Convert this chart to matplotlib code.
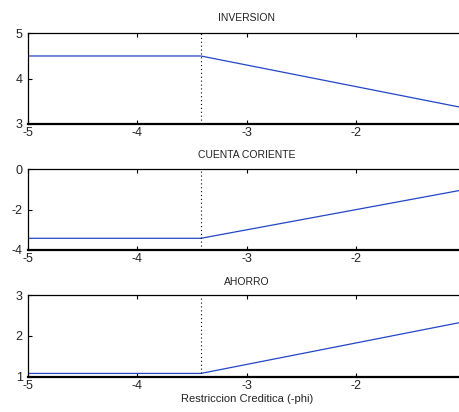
import numpy as np
import matplotlib
matplotlib.use("Agg")
import matplotlib.pyplot as plt

plt.rcParams['font.family'] = ['Liberation Sans', 'DejaVu Sans']
plt.rcParams['axes.unicode_minus'] = False

# datos
phi = [-5.0, -3.42, -1.0]
inversion = [4.5, 4.5, 3.35]
cuenta_corriente = [-3.42, -3.42, -1.0]
ahorro = [1.08, 1.08, 2.35]
phi_corte = -3.42

titulos = ['INVERSION', 'CUENTA CORIENTE', 'AHORRO']
series = [inversion, cuenta_corriente, ahorro]
ylims = [(3, 5), (-4, 0), (1, 3)]
yticks = [[3, 4, 5], [-4, -2, 0], [1, 2, 3]]
xticks = [-5, -4, -3, -2, -1]

W, H = 459, 412
fig = plt.figure(figsize=(W / 100, H / 100), dpi=100)

# posiciones en pixeles (arriba, abajo) de cada eje
cajas = [(33.3, 124.0), (169.3, 250.0), (295.0, 376.7)]
pads = [9, 8, 7]
x0, x1 = 28.3, 465.0

for k in range(3):
    top, bot = cajas[k]
    ax = fig.add_axes([x0 / W, 1 - bot / H, (x1 - x0) / W, (bot - top) / H])
    ax.plot(phi, series[k], color='#2346c4', linewidth=0.9)
    ax.axvline(phi_corte, color='black', linestyle=(0, (1, 2.5)), linewidth=0.8)
    ax.set_xlim(-5, -1)
    ax.set_ylim(*ylims[k])
    ax.set_xticks(xticks)
    ax.set_yticks(yticks[k])
    ax.tick_params(direction='in', length=3, width=0.8, labelsize=9,
                   labelcolor='#222222', top=True, right=True, pad=2.5)
    ax.tick_params(axis='y', pad=4)
    for s in ax.spines.values():
        s.set_linewidth(0.9)
    ax.spines['bottom'].set_linewidth(1.6)
    ax.set_title(titulos[k], fontsize=7.5, pad=pads[k], color='#222222')

ax.set_xlabel('Restriccion Creditica (-phi)', fontsize=8, labelpad=1,
              color='#222222')

fig.savefig('out.png', dpi=100, facecolor='white')
